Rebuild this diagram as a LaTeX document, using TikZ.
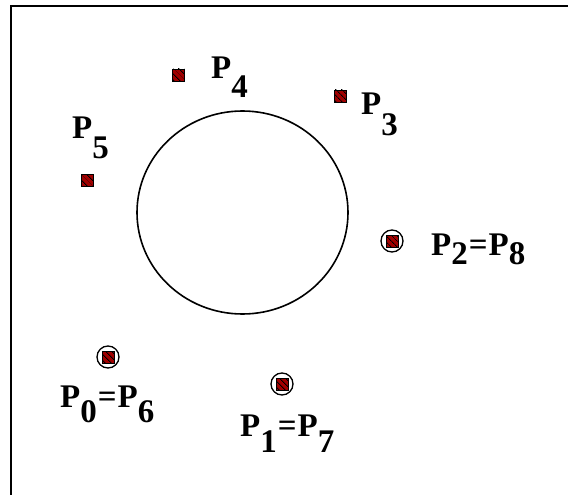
\documentclass[tikz,border=0pt]{standalone}
\usepackage{fontspec}
\setmainfont{Liberation Serif}
\usetikzlibrary{patterns.meta}
\definecolor{sqred}{HTML}{A00000}
\newcommand{\sbx}[2]{\raisebox{-#1pt}{#2}}
\tikzset{
  ptsq/.style={draw=black, line width=0.5pt, fill=sqred, minimum size=12pt, inner sep=0pt,
    postaction={pattern={Lines[angle=-45,distance=4pt,line width=0.9pt]}, pattern color=black}},
  ring/.style={draw=black, line width=1.3pt, circle, minimum size=22pt, inner sep=0pt},
  lab/.style={anchor=base west, inner sep=0pt, font=\fontsize{33}{33}\selectfont\bfseries}
}
\begin{document}
\begin{tikzpicture}[x=1pt,y=-1pt]
\useasboundingbox (0,0) rectangle (568,495);
\draw[line width=2.5pt] (11,495) -- (11,6) -- (568,6);
\draw[line width=1.6pt] (242.5,212.5) ellipse [x radius=105.5pt, y radius=101.5pt];
% squares
\node[ptsq] (s4) at (178,75) {};
\node[ptsq] (s3) at (340,96) {};
\node[ptsq] (s5) at (87,180) {};
\node[ptsq] (s2) at (392,241) {};
\node[ptsq] (s0) at (108,357) {};
\node[ptsq] (s1) at (282,384) {};
\node[ring] (c2) at (s2) {};
\node[ring] (c0) at (s0) {};
\node[ring] (c1) at (s1) {};
% labels
\node[lab] (l4) at (211,78) {P\sbx{20}{4}};
\node[lab] (l3) at (361,114) {P\sbx{21}{3}};
\node[lab] (l5) at (72,139) {P\sbx{20}{5}};
\node[lab] (l2) at (431,255) {P\sbx{9}{2}\hspace{1pt}=\hspace{1pt}P\sbx{9}{8}};
\node[lab] (l0) at (60,407) {P\sbx{15}{0}\hspace{1pt}=\hspace{1pt}P\sbx{15}{6}};
\node[lab] (l1) at (240,436) {P\sbx{16}{1}\hspace{1pt}=\hspace{1pt}P\sbx{16}{7}};
\end{tikzpicture}
\end{document}
